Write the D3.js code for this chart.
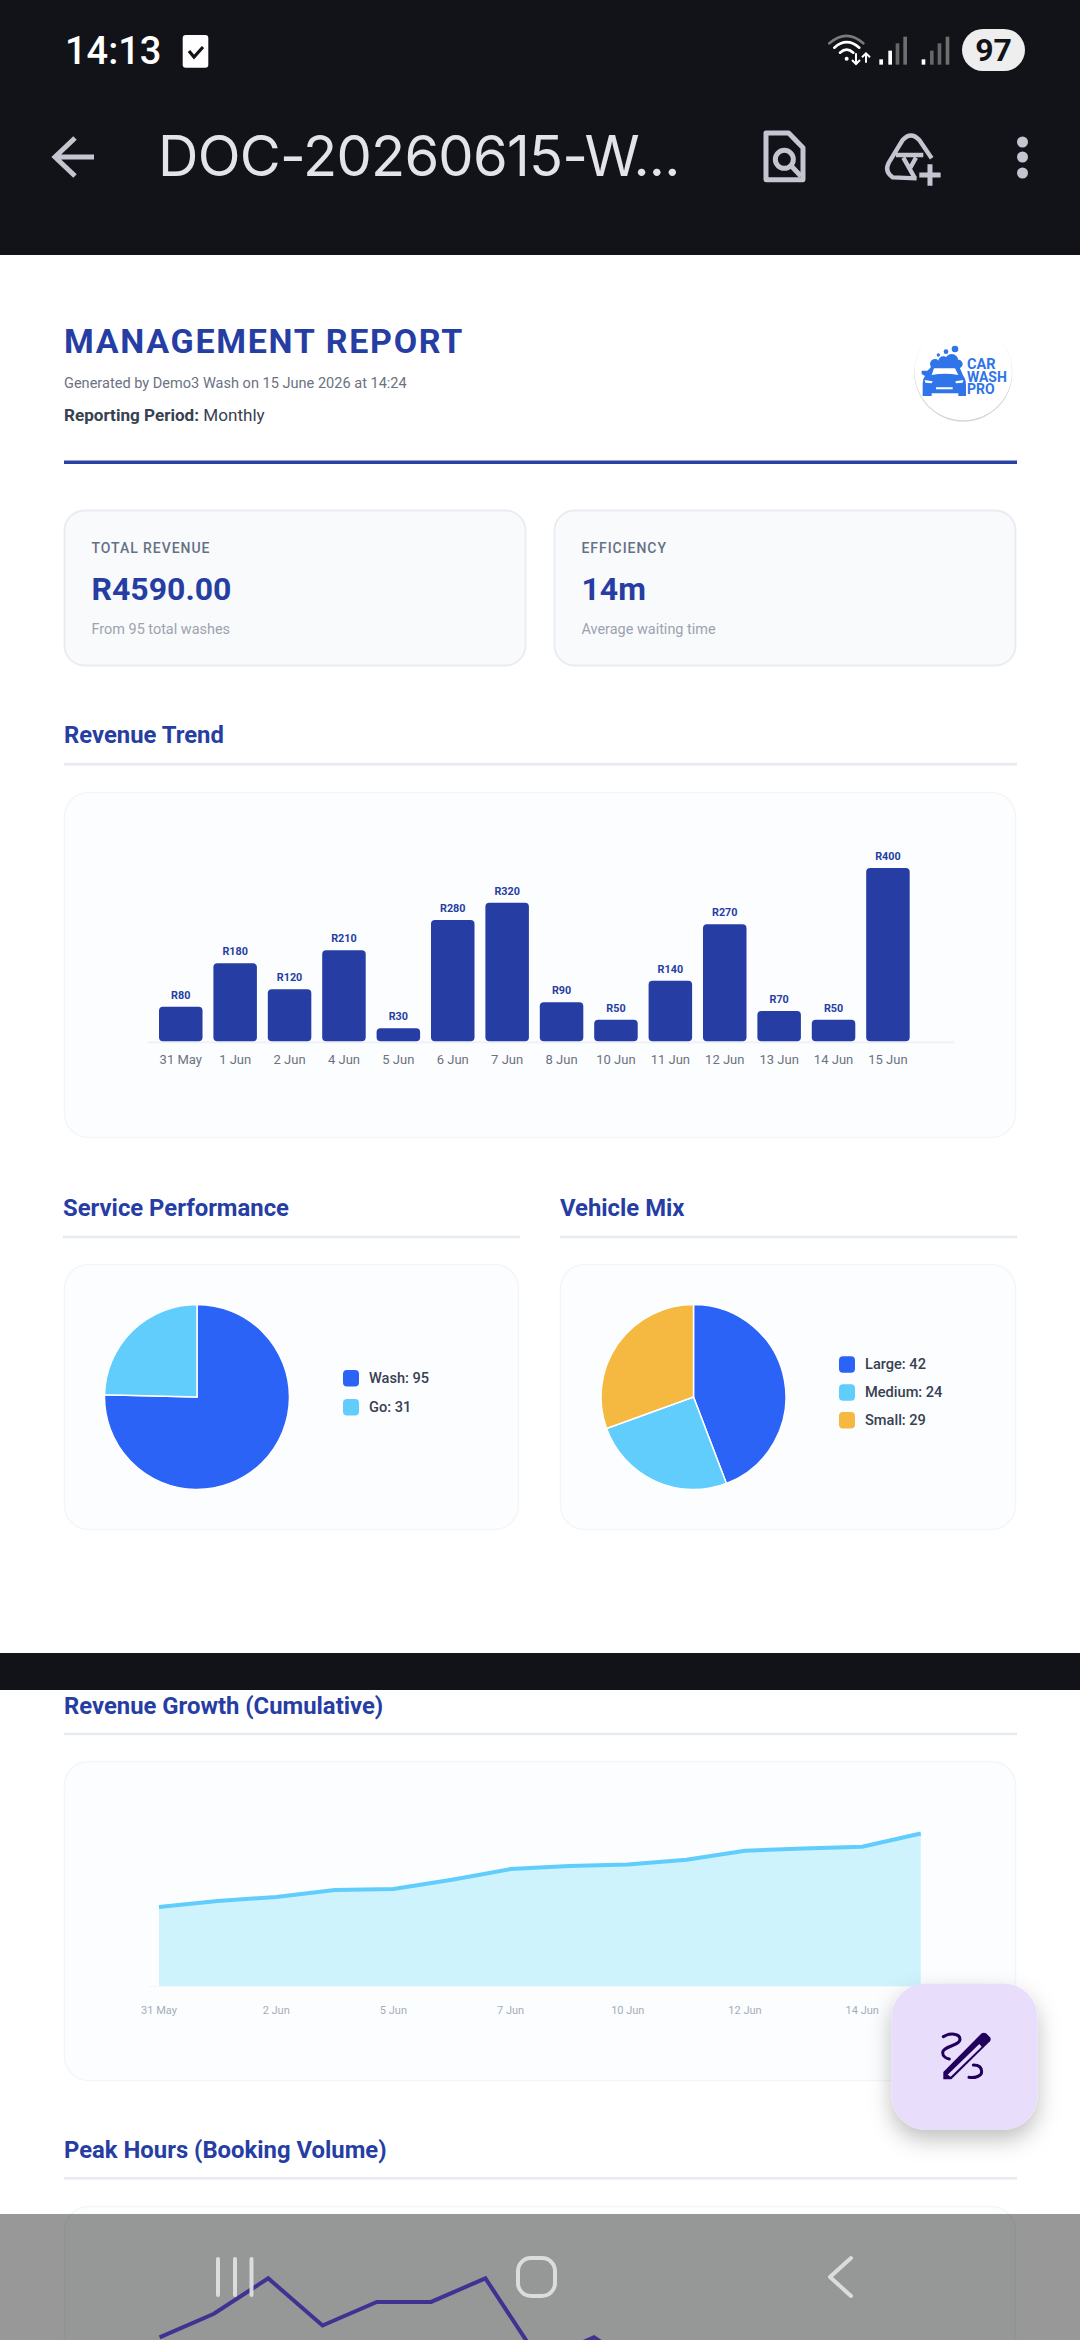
<!DOCTYPE html>
<html><head><meta charset="utf-8">
<style>html,body{margin:0;padding:0;background:#fff}svg{display:block}text{font-family:Roboto,sans-serif}</style>
<script src="https://cdn.jsdelivr.net/npm/d3@7"></script>
</head><body>
<script>
// ---------- data ----------
const barDays = ["31 May","1 Jun","2 Jun","4 Jun","5 Jun","6 Jun","7 Jun","8 Jun","10 Jun","11 Jun","12 Jun","13 Jun","14 Jun","15 Jun"];
const barRevenue = [80,180,120,210,30,280,320,90,50,140,270,70,50,400];
const cumulativeRevenue = [2380,2560,2680,2890,2920,3200,3520,3610,3660,3800,4070,4140,4190,4590];
const cumulativeTicks = ["31 May","2 Jun","5 Jun","7 Jun","10 Jun","12 Jun","14 Jun"];
const serviceLabels = ["Wash","Go"];
const serviceValues = [95,31];
const vehicleLabels = ["Large","Medium","Small"];
const vehicleValues = [42,24,29];
const peakSlots = [0,1,2,3,4,5,6,7,8,9];
const peakBookings = [7,9,12,8,10,10,12,5,7,4];
const kpiTitles = ["TOTAL REVENUE","EFFICIENCY"];
const kpiValues = ["R4590.00","14m"];
const kpiNotes = ["From 95 total washes","Average waiting time"];

// ---------- palette ----------
const NAVY="#263ea3", BLUE="#2b63f7", SKY="#60cdfc", AMBER="#f5b942", DARK="#121318", ICON="#c5c5d1";
const svg=d3.select("body").append("svg").attr("width",1080).attr("height",2340).attr("viewBox","0 0 1080 2340");
svg.append("rect").attr("width",1080).attr("height",2340).attr("fill","#fff");

function txt(g,x,cy,s,o={}){
  const size=o.size||14;
  return g.append("text").attr("x",x).attr("y",cy+size*0.355)
    .attr("font-size",size).attr("font-weight",o.weight||400).attr("fill",o.fill||"#000")
    .attr("text-anchor",o.anchor||"start").attr("letter-spacing",o.ls||0)
    .style("font-family",o.family||"Roboto,sans-serif").text(s);
}
function card(x,y,w,h,r,fill,stroke,sw){
  svg.append("rect").attr("x",x+.5).attr("y",y+.5).attr("width",w-1).attr("height",h-1).attr("rx",r)
   .attr("fill",fill).attr("stroke",stroke).attr("stroke-width",sw||1.5);
}
function section(x0,x1,cy,rule,s){
  txt(svg,x0,cy,s,{size:23.85,weight:700,fill:NAVY});
  svg.append("rect").attr("x",x0).attr("y",rule-1).attr("width",x1-x0).attr("height",2.5).attr("fill","#e6eaf1");
}
const CARD="#fcfdfe", CARDLINE="#f3f5f9";

// ---------- report header ----------
txt(svg,64,340.7,"MANAGEMENT REPORT",{size:34,weight:700,fill:NAVY,ls:1.7});
txt(svg,64,382.7,"Generated by Demo3 Wash on 15 June 2026 at 14:24",{size:14.55,fill:"#6b7280"});
const rp=txt(svg,64,415,"Reporting Period:",{size:17.1,weight:700,fill:"#374151"});
rp.append("tspan").attr("font-weight",400).text(" Monthly");
svg.append("rect").attr("x",64).attr("y",460.5).attr("width",953).attr("height",3.5).attr("fill","#2a40a3");

// logo
const logo=svg.append("g").attr("transform","translate(880,300) scale(.3333)");
logo.append("circle").attr("cx",250).attr("cy",218).attr("r",147).attr("fill","#d6d6d6");
logo.append("circle").attr("cx",250).attr("cy",215).attr("r",146).attr("fill","#fff");
const LB="#2f74e8";
[[225,147,10],[198,155,7],[175,165,5],[165,192,15],[190,184,15],[215,182,20],[235,192,13]].forEach(c=>
  logo.append("circle").attr("cx",c[0]).attr("cy",c[1]).attr("r",c[2]).attr("fill",LB));
logo.append("path").attr("fill",LB).attr("d","M150,205 Q155,195 170,195 H220 Q235,195 240,205 L250,228 Q258,238 258,255 V288 H235 V280 H155 V288 H128 V250 Q128,236 135,228 L125,222 V212 H142 Z");
logo.append("path").attr("fill","#fff").attr("d","M155,225 L162,205 H225 L235,225 Q195,218 155,225 Z");
logo.append("path").attr("fill","#fff").attr("d","M134,240 L158,244 L155,250 L136,248 Z M250,240 L226,244 L228,250 L248,248 Z M168,262 H218 V268 H168 Z");
txt(svg,967,364,"CAR",{size:14.5,weight:700,fill:LB});
txt(svg,967,377,"WASH",{size:14,weight:700,fill:LB});
txt(svg,967,389.5,"PRO",{size:14,weight:700,fill:LB});

// ---------- KPI cards ----------
[[64,462],[554,462]].forEach((c,i)=>{
  card(c[0],510,c[1],156,20,"#f8fafc","#e8ecf2",1.8);
  const x=c[0]+27.5;
  txt(svg,x,548,kpiTitles[i],{size:14,weight:500,fill:"#667085",ls:.95});
  txt(svg,x,589,kpiValues[i],{size:32,weight:700,fill:NAVY});
  txt(svg,x,629,kpiNotes[i],{size:14.45,fill:"#9ca3af"});
});

// ---------- revenue trend bars ----------
section(64,1017,735,764,"Revenue Trend");
card(64,792,952,346,24,CARD,CARDLINE);
const barX=d3.scaleBand().domain(barDays).range([159,909.7]).paddingInner(.2).paddingOuter(0);
const barY=d3.scaleLinear().domain([0,400]).range([1041.3,868]);
svg.append("rect").attr("x",148).attr("y",1041.3).attr("width",806).attr("height",2).attr("fill","#eff1f6");
const barData=barDays.map((d,i)=>({d,v:barRevenue[i]}));
svg.append("g").selectAll("path").data(barData).join("path").attr("fill",NAVY)
  .attr("d",b=>{const x=barX(b.d),w=barX.bandwidth(),y=barY(b.v),y0=barY(0),r=4;
    const p=d3.path();p.moveTo(x+r,y);p.lineTo(x+w-r,y);p.quadraticCurveTo(x+w,y,x+w,y+r);
    p.lineTo(x+w,y0-r);p.quadraticCurveTo(x+w,y0,x+w-r,y0);p.lineTo(x+r,y0);p.quadraticCurveTo(x,y0,x,y0-r);
    p.lineTo(x,y+r);p.quadraticCurveTo(x,y,x+r,y);p.closePath();return p.toString();});
svg.append("g").selectAll("text").data(barData).join("text")
  .attr("x",b=>barX(b.d)+barX.bandwidth()/2).attr("y",b=>barY(b.v)-8)
  .attr("text-anchor","middle").attr("font-size",10.8).attr("font-weight",700).attr("fill",NAVY).text(b=>"R"+b.v);
const barAxis=svg.append("g").attr("transform","translate(0,1041.3)").call(d3.axisBottom(barX).tickSize(0).tickPadding(0).offset(0));
barAxis.select(".domain").remove();
barAxis.selectAll("text").attr("y",13).attr("dy","0.71em").attr("font-size",13).style("font-family","Roboto,sans-serif").attr("fill","#6b7280");

// ---------- pies ----------
section(63,520,1207.5,1236.7,"Service Performance");
section(560,1017,1207.5,1236.7,"Vehicle Mix");
card(64,1264,455,266,24,CARD,CARDLINE);
card(560,1264,456,266,24,CARD,CARDLINE);
function pieChart(cx,cy,labels,values,colors,legX,legY,legStep){
  const pie=d3.pie().sort(null)(values);
  const arc=d3.arc().innerRadius(0).outerRadius(92.5);
  svg.append("g").attr("transform",`translate(${cx},${cy})`).selectAll("path").data(pie).join("path")
    .attr("d",arc).attr("fill",(d,i)=>colors[i]).attr("stroke","#fff").attr("stroke-width",1.5);
  labels.forEach((l,i)=>{
    const y=legY+i*legStep;
    svg.append("rect").attr("x",legX).attr("y",y-8).attr("width",16).attr("height",16.5).attr("rx",4).attr("fill",colors[i]);
    txt(svg,legX+26,y,`${l}: ${values[i]}`,{size:14.6,weight:500,fill:"#374151"});
  });
}
pieChart(197,1397,serviceLabels,serviceValues,[BLUE,SKY],343,1378,29);
pieChart(693.5,1397,vehicleLabels,vehicleValues,[BLUE,SKY,AMBER],839,1364.3,27.9);

// page break band
svg.append("rect").attr("y",1653).attr("width",1080).attr("height",37).attr("fill",DARK);

// ---------- cumulative growth ----------
section(64,1017,1705.5,1733.7,"Revenue Growth (Cumulative)");
card(64,1761,952,320,24,CARD,CARDLINE);
const cumX=d3.scalePoint().domain(barDays).range([159,920.8]);
const cumY=d3.scaleLinear().domain([0,4590]).range([1986,1833.5]);
const cumData=barDays.map((d,i)=>({d,v:cumulativeRevenue[i]}));
svg.append("rect").attr("x",148).attr("y",1986).attr("width",790).attr("height",1).attr("fill","#f4f6fa");
svg.append("path").datum(cumData).attr("fill","#cff3fd")
  .attr("d",d3.area().x(p=>cumX(p.d)).y0(cumY(0)).y1(p=>cumY(p.v)));
svg.append("path").datum(cumData).attr("fill","none").attr("stroke",SKY).attr("stroke-width",4)
  .attr("d",d3.line().x(p=>cumX(p.d)).y(p=>cumY(p.v)));
const cumAxis=svg.append("g").attr("transform","translate(0,1986)")
  .call(d3.axisBottom(cumX).tickValues(cumulativeTicks).tickSize(0).tickPadding(0).offset(0));
cumAxis.select(".domain").remove();
cumAxis.selectAll("text").attr("y",20).attr("dy","0.71em").attr("font-size",11).style("font-family","Roboto,sans-serif").attr("fill","#a3adba");

// ---------- peak hours ----------
section(64,1017,2150,2178,"Peak Hours (Booking Volume)");
card(64,2206,952,200,24,CARD,CARDLINE);
const peakX=d3.scalePoint().domain(peakSlots).range([159.6,159.6+54.3*9]);
const peakY=d3.scaleLinear().domain([0,12]).range([2420,2278.3]);
svg.append("path").datum(peakBookings).attr("fill","none").attr("stroke","#6b57f5").attr("stroke-width",4)
  .attr("d",d3.line().x((v,i)=>peakX(i)).y(v=>peakY(v)));

// ---------- FAB ----------
const defs=svg.append("defs");
const sh=defs.append("filter").attr("id","sh").attr("x","-40%").attr("y","-40%").attr("width","180%").attr("height","180%");
sh.append("feDropShadow").attr("dx",0).attr("dy",10).attr("stdDeviation",11).attr("flood-color","#000").attr("flood-opacity",.25);
svg.append("rect").attr("x",891.5).attr("y",1983.5).attr("width",146).attr("height",146).attr("rx",34).attr("fill","#e8defc").attr("filter","url(#sh)");
const fab=svg.append("g").attr("transform","translate(880,1970) scale(.3333)");
const IK="#21005d";
fab.append("path").attr("fill",IK).attr("d","M190,328 V306 L305,190 Q312,186 318,190 L330,202 Q334,208 330,214 L214,328 Z");
fab.append("path").attr("fill","#e8defc").attr("d","M203,314 L298,222 L305,230 L212,320 Z");
fab.append("path").attr("fill","none").attr("stroke",IK).attr("stroke-width",9).attr("stroke-linecap","round")
  .attr("d","M190,200 C210,188 240,190 240,208 C240,228 188,228 188,248 C188,258 198,265 208,267 M280,285 C300,285 305,295 305,305 C305,318 285,325 267,322");

// ---------- nav overlay ----------
svg.append("rect").attr("y",2214).attr("width",1080).attr("height",126).attr("fill","#000").attr("opacity",.405);
const NAV="#e2e2e2";
const nav=svg.append("g").attr("fill","none").attr("stroke",NAV).attr("stroke-width",4).attr("stroke-linecap","round").attr("stroke-linejoin","round").attr("opacity",.92);
[218,235,251.5].forEach(x=>nav.append("line").attr("x1",x).attr("x2",x).attr("y1",2259).attr("y2",2295));
nav.append("rect").attr("x",518).attr("y",2258).attr("width",37).attr("height",38).attr("rx",13);
nav.append("path").attr("d","M851,2258 L830,2277 L851,2296");

// ---------- top app bar ----------
svg.append("rect").attr("width",1080).attr("height",255).attr("fill",DARK);
txt(svg,65,50.3,"14:13",{size:38,weight:500,fill:"#fff"});
svg.append("rect").attr("x",182.7).attr("y",35).attr("width",25.6).attr("height",32.7).attr("rx",3).attr("fill","#fff");
svg.append("path").attr("d","M189,51 L194,57 L203,47").attr("fill","none").attr("stroke",DARK).attr("stroke-width",3.2);
// status icons, drawn in the crop's 3x coordinates
const st=svg.append("g").attr("transform","translate(780,0) scale(.3333)");
const wifi=st.append("g").attr("fill","none").attr("stroke-linecap","round");
wifi.append("path").attr("d","M148,130 Q200,85 250,130").attr("stroke","#7a7a7a").attr("stroke-width",8);
wifi.append("path").attr("d","M163,143 Q200,110 238,143").attr("stroke","#fff").attr("stroke-width",8);
wifi.append("path").attr("d","M180,158 Q200,140 220,158").attr("stroke","#fff").attr("stroke-width",8);
st.append("circle").attr("cx",200).attr("cy",176).attr("r",6).attr("fill","#fff");
st.append("path").attr("fill","none").attr("stroke","#fff").attr("stroke-width",6).attr("d","M228,160 V192 M216,180 L228,192 L240,180 M258,188 V160 M246,172 L258,160 L270,172");
[[298,178,"#fff"],[325,152,"#fff"],[347,130,"#666"],[370,110,"#6f6f6f"],[425,178,"#fff"],[450,152,"#666"],[473,130,"#666"],[497,110,"#6f6f6f"]]
 .forEach(b=>st.append("rect").attr("x",b[0]).attr("y",b[1]).attr("width",11).attr("height",194-b[1]).attr("fill",b[2]));
svg.append("rect").attr("x",962).attr("y",29).attr("width",63).attr("height",42).attr("rx",21).attr("fill","#eeeeee");
txt(svg,993.5,50,"97",{size:32,weight:700,fill:DARK,anchor:"middle"});
// toolbar
svg.append("path").attr("d","M94,157 H55 M75,138 L55,157 L75,176").attr("fill","none").attr("stroke",ICON).attr("stroke-width",5);
txt(svg,158,156.5,"DOC-20260615-W...",{size:56,weight:400,fill:"#e3e3e9",family:"Inter,sans-serif",ls:-0.75});
const tb=svg.append("g").attr("transform","translate(740,115) scale(.3333)").attr("fill","none").attr("stroke",ICON).attr("stroke-width",15).attr("stroke-linejoin","round");
tb.append("path").attr("d","M78,54 H146 L189,98 V194 H78 Z");
tb.append("circle").attr("cx",133).attr("cy",133).attr("r",27);
tb.append("path").attr("d","M153,152 L183,184");
tb.append("path").attr("stroke-width",13).attr("d","M575,130 L538,75 Q513,48 488,75 L447,142 Q432,170 458,187 L530,190 M468,120 H550 M490,128 L525,190 M528,128 L510,160");
tb.append("path").attr("stroke-width",15).attr("d","M538,180 H602 M570,148 V212");
[142,157,173].forEach(y=>svg.append("circle").attr("cx",1022.5).attr("cy",y).attr("r",5.5).attr("fill",ICON));
</script>
</body></html>
